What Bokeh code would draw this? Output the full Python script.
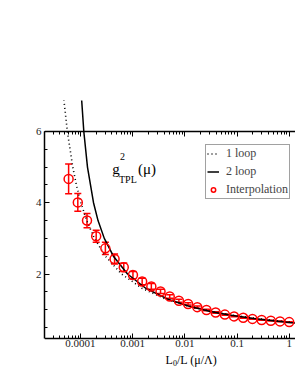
from bokeh.plotting import figure
from bokeh.models import (Range1d, LogAxis, FixedTicker, SingleIntervalTicker, Whisker,
                          TeeHead, ColumnDataSource, Label, Legend, LegendItem,
                          CustomJSTickFormatter)
from bokeh.embed import file_html
from bokeh.resources import INLINE

# ---- data ----
x_interp = [5.940e-5, 8.911e-5, 1.3366e-4, 2.0049e-4, 3.0073e-4, 4.5110e-4, 6.7664e-4,
            1.01496e-3, 1.52244e-3, 2.28366e-3, 3.42549e-3, 5.13823e-3, 7.70735e-3,
            1.15610e-2, 1.73415e-2, 2.60123e-2, 3.90184e-2, 5.85277e-2, 8.77915e-2,
            0.131687, 0.197531, 0.296296, 0.444444, 0.666667, 1.0]
g2_interp = [4.67, 4.01, 3.50, 3.06, 2.72, 2.42, 2.19, 1.97, 1.79, 1.65, 1.51, 1.37, 1.25,
             1.16, 1.07, 0.99, 0.92, 0.86, 0.81, 0.77, 0.74, 0.71, 0.69, 0.67, 0.65]
g2_err = [0.42, 0.25, 0.20, 0.17, 0.17, 0.14, 0.12, 0.10, 0.09, 0.08, 0.06, 0.05, 0.04,
          0.03, 0.03, 0.02, 0.02, 0.02, 0.01, 0.01, 0.01, 0.01, 0.01, 0.01, 0.01]

x_1loop = [4.73e-5, 5.62e-5, 7.14e-5, 8.37e-5, 1.022e-4, 1.32e-4, 1.858e-4, 3.0e-4, 6.14e-4,
           1.507e-3, 4.25e-3, 1.159e-2, 3.24e-2, 7.89e-2, 0.243, 0.652, 1.32]
g2_1loop = [7.0, 6.0, 5.0, 4.5, 4.0, 3.5, 3.0, 2.5, 2.0, 1.6, 1.3, 1.1, 0.95, 0.85, 0.75,
            0.68, 0.6375]

x_2loop = [1.054e-4, 1.161e-4, 1.365e-4, 1.782e-4, 2.174e-4, 2.867e-4, 4.282e-4, 7.99e-4,
           1.782e-3, 4.598e-3, 1.168e-2, 3.076e-2, 7.139e-2, 0.2086, 0.5358, 1.01, 1.43]
g2_2loop = [6.9, 6.0, 5.0, 4.0, 3.5, 3.0, 2.5, 2.0, 1.6, 1.3, 1.1, 0.95, 0.85, 0.75, 0.68,
            0.64, 0.62]

x_tick_values = [1e-4, 1e-3, 1e-2, 1e-1, 1.0]
x_tick_labels = ["0.0001", "0.001", "0.01", "0.1", "1"]
x_minor_ticks = [m * 10.0 ** e for e in range(-5, 1) for m in range(2, 10)]

legend_labels = ["1 loop", "2 loop", "Interpolation"]

FONT = "Liberation Serif"
Y_AXIS, Y_TOP, Y_END, Y_LOW = 0.19, 6.0, 6.87, -0.877

p = figure(width=295, height=376, x_axis_type="log",
           x_range=Range1d(2.05e-5, 1.32), y_range=Range1d(Y_LOW, Y_END),
           output_backend="svg", toolbar_location=None,
           min_border_left=44, min_border_right=0, min_border_top=100, min_border_bottom=0)
p.outline_line_color = None
p.xgrid.visible = False
p.ygrid.visible = False
p.background_fill_color = "white"
p.border_fill_color = "white"

# bottom axis, drawn at the bottom of the data area
xax = p.below[0]
xax.fixed_location = Y_AXIS
xax.ticker = FixedTicker(ticks=x_tick_values, minor_ticks=x_minor_ticks)
xax.major_label_overrides = dict(zip(x_tick_values, x_tick_labels))
xax.formatter = CustomJSTickFormatter(code="return tick.toString()")
xax.major_tick_in = 5
xax.major_tick_out = 0
xax.minor_tick_in = 3
xax.minor_tick_out = 0
xax.axis_line_width = 1.5
xax.major_label_text_font = FONT
xax.major_label_text_font_size = "11px"
xax.major_label_text_color = "#222222"
xax.major_label_standoff = 2

# left axis
yax = p.left[0]
yax.ticker = SingleIntervalTicker(interval=2, num_minor_ticks=4)
yax.bounds = (Y_AXIS, Y_TOP)
yax.major_tick_in = 5
yax.major_tick_out = 0
yax.minor_tick_in = 3
yax.minor_tick_out = 0
yax.axis_line_width = 1.5
yax.major_label_text_font = FONT
yax.major_label_text_font_size = "11px"
yax.major_label_text_color = "#222222"
yax.major_label_standoff = 3

# top axis at y = 6
top = LogAxis(ticker=FixedTicker(ticks=x_tick_values, minor_ticks=x_minor_ticks),
              formatter=CustomJSTickFormatter(code="return ''"), fixed_location=Y_TOP,
              major_tick_in=5, major_tick_out=0, minor_tick_in=3, minor_tick_out=0,
              axis_line_width=1.5)
p.add_layout(top, "above")

# curves
r1 = p.line(x_1loop, g2_1loop, line_color="black", line_width=1.6, line_dash="1 3")
r2 = p.line(x_2loop, g2_2loop, line_color="black", line_width=1.5)

# interpolation points with error bars
src = ColumnDataSource(dict(x=x_interp, y=g2_interp,
                            lower=[a - b for a, b in zip(g2_interp, g2_err)],
                            upper=[a + b for a, b in zip(g2_interp, g2_err)]))
wh = Whisker(base="x", upper="upper", lower="lower", source=src,
             line_color="red", line_width=1.5,
             upper_head=TeeHead(size=7, line_color="red", line_width=1.5),
             lower_head=TeeHead(size=7, line_color="red", line_width=1.5))
p.add_layout(wh)
r3 = p.scatter("x", "y", source=src, marker="circle", size=9, fill_color=None,
               line_color="red", line_width=1.5)

legend = Legend(items=[LegendItem(label=legend_labels[0], renderers=[r1]),
                       LegendItem(label=legend_labels[1], renderers=[r2]),
                       LegendItem(label=legend_labels[2], renderers=[r3])],
                location=(161, 177), padding=1, spacing=3, margin=0,
                glyph_width=12, glyph_height=11, label_height=11, label_standoff=7,
                label_text_font=FONT, label_text_font_size="12px",
                border_line_color="#444444", border_line_width=1,
                background_fill_color="white", background_fill_alpha=1)
p.add_layout(legend, "center")

def lab(text, x, y, size):
    p.add_layout(Label(x=x, y=y, x_units="screen", y_units="screen", text=text,
                       text_font=FONT, text_font_size=size, text_color="black",
                       text_baseline="alphabetic", text_align="left"))

# in-plot title g^2_TPL(mu)
lab("g", 67.7, 208, "15px")
lab("2", 75.5, 220.5, "10px")
lab("TPL", 74.5, 197, "10px")
lab("(\u03bc)", 93.5, 208, "15px")

# x axis title L0/L (mu/Lambda)
lab("L", 121, 17, "12px")
lab("0", 128.5, 14, "8px")
lab("/L (\u03bc/\u039b)", 132.5, 17, "12px")

open("out.html", "w").write(file_html(p, INLINE))
